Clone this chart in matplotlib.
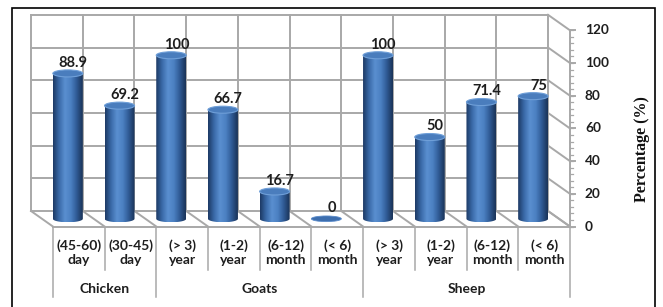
import numpy as np
import matplotlib
matplotlib.use("Agg")
import matplotlib.pyplot as plt
from matplotlib.patches import Ellipse, Polygon, Rectangle
from matplotlib.colors import LinearSegmentedColormap

# ---- data ----
categories = ["(45-60)\nday", "(30-45)\nday", "(> 3)\nyear", "(1-2)\nyear", "(6-12)\nmonth",
              "(< 6)\nmonth", "(> 3)\nyear", "(1-2)\nyear", "(6-12)\nmonth", "(< 6)\nmonth"]
values = [88.9, 69.2, 100, 66.7, 16.7, 0, 100, 50, 71.4, 75]
value_labels = ["88.9", "69.2", "100", "66.7", "16.7", "0", "100", "50", "71.4", "75"]
groups = ["Chicken", "Goats", "Sheep"]
group_sizes = [2, 4, 4]
yticks = [0, 20, 40, 60, 80, 100, 120]
ylabel = "Percentage (%)"

# ---- style / layout ----
FONT = ["Lato", "DejaVu Sans"]
DX = 0.425     # depth offset (categories)
DY = 9.5       # depth offset (value units)
BW = 0.58      # bar width
EH = 4.3       # ellipse height (value units)
GRID = "#a8a8a8"
TXT = "#1e1e1e"

fig = plt.figure(figsize=(6.63, 3.07), dpi=100)
ax = fig.add_axes([0, 0, 1, 1])
ax.axis("off")

n = len(values)
xmin, xmax = -1.0996, 11.724
ymin, ymax = -58.7, 129.05

# back wall grid
for t in yticks:
    ax.plot([-0.5, n - 0.5], [t, t], color=GRID, lw=1.4, zorder=1)
    ax.plot([n - 0.5, n - 0.5 + DX], [t, t - DY], color=GRID, lw=1.4, zorder=1)
for i in range(n + 1):
    x = -0.5 + i
    ax.plot([x, x], [0, yticks[-1]], color=GRID, lw=1.4, zorder=1)
    ax.plot([x, x + DX], [0, -DY], color=GRID, lw=1.4, zorder=1)
ax.plot([-0.5 + DX, n - 0.5 + DX], [-DY, -DY], color=GRID, lw=1.4, zorder=1)

# right front axis
axx = n - 0.5 + DX
ax.plot([axx, axx], [-DY, yticks[-1] - DY], color=GRID, lw=1.4, zorder=2)
for t in np.arange(0, yticks[-1] + 0.1, 4):
    ax.plot([axx, axx + 0.05], [t - DY, t - DY], color=GRID, lw=0.9, zorder=2)
for t in yticks:
    ax.plot([axx, axx + 0.1], [t - DY, t - DY], color=GRID, lw=1.4, zorder=2)
    ax.text(axx + 0.29, t - DY, str(t), ha="left", va="center", fontsize=9.8,
            fontweight="bold", color=TXT, family=FONT)

# cylinders
cmap = LinearSegmentedColormap.from_list(
    "cyl", ["#1d3a66", "#3a6aa8", "#5a8fd0", "#4b80c2", "#2f5a94", "#1a3358"])
grad = np.linspace(0, 1, 64).reshape(1, -1)
for i, v in enumerate(values):
    cx = i + DX / 2
    y0 = -DY / 2
    if v > 0:
        th = np.linspace(np.pi, 2 * np.pi, 40)
        arc = np.column_stack([cx + BW / 2 * np.cos(th), y0 + EH / 2 * np.sin(th)])
        pts = np.vstack([[cx - BW / 2, y0 + v], arc, [cx + BW / 2, y0 + v]])
        poly = Polygon(pts, closed=True, facecolor="none", edgecolor="none")
        ax.add_patch(poly)
        im = ax.imshow(grad, cmap=cmap, aspect="auto", interpolation="bilinear",
                       extent=[cx - BW / 2, cx + BW / 2, y0 - EH / 2, y0 + v], zorder=3)
        im.set_clip_path(poly)
        ax.add_patch(Ellipse((cx, y0 + v), BW, EH, facecolor="#4a7dbd",
                             edgecolor="#6f9fd8", lw=0.8, zorder=4))
    else:
        ax.add_patch(Ellipse((cx, y0), BW, EH * 0.8, facecolor="#3d6eae",
                             edgecolor="#5b8ccb", lw=0.6, zorder=4))
    ax.text(cx + 0.1, y0 + v + 6.5, value_labels[i], ha="center", va="center",
            fontsize=10.5, fontweight="bold", color=TXT, family=FONT, zorder=5)

# category labels and separators
for i, c in enumerate(categories):
    ax.text(i + DX, -25.4, c, ha="center", va="center", fontsize=10,
            fontweight="bold", color=TXT, family=FONT, linespacing=1.25)
bounds = np.concatenate([[0], np.cumsum(group_sizes)])
for i in range(n + 1):
    bottom = -52.6 if i in bounds else -36
    ax.plot([-0.5 + i + DX] * 2, [-DY, bottom], color=GRID, lw=1.1, zorder=1)
for g, a, b in zip(groups, bounds[:-1], bounds[1:]):
    ax.text((a + b) / 2 - 0.5 + DX, -47.7, g, ha="center", va="center", fontsize=10,
            fontweight="bold", color=TXT, family=FONT)

ax.set_xlim(xmin, xmax)
ax.set_ylim(ymin, ymax)

fig.text(642 / 663, 1 - 149 / 307, ylabel, rotation=90, ha="center", va="center",
         fontsize=11.5, fontweight="bold", family=["Liberation Serif", "DejaVu Serif"],
         color="#111111")

# outer border
fig.patches.append(Rectangle((12 / 663, -0.05), (655 - 12) / 663, 1.05 - 8 / 307,
                             transform=fig.transFigure, fill=False, edgecolor="black",
                             lw=1.2))

fig.savefig("out.png", dpi=100)
